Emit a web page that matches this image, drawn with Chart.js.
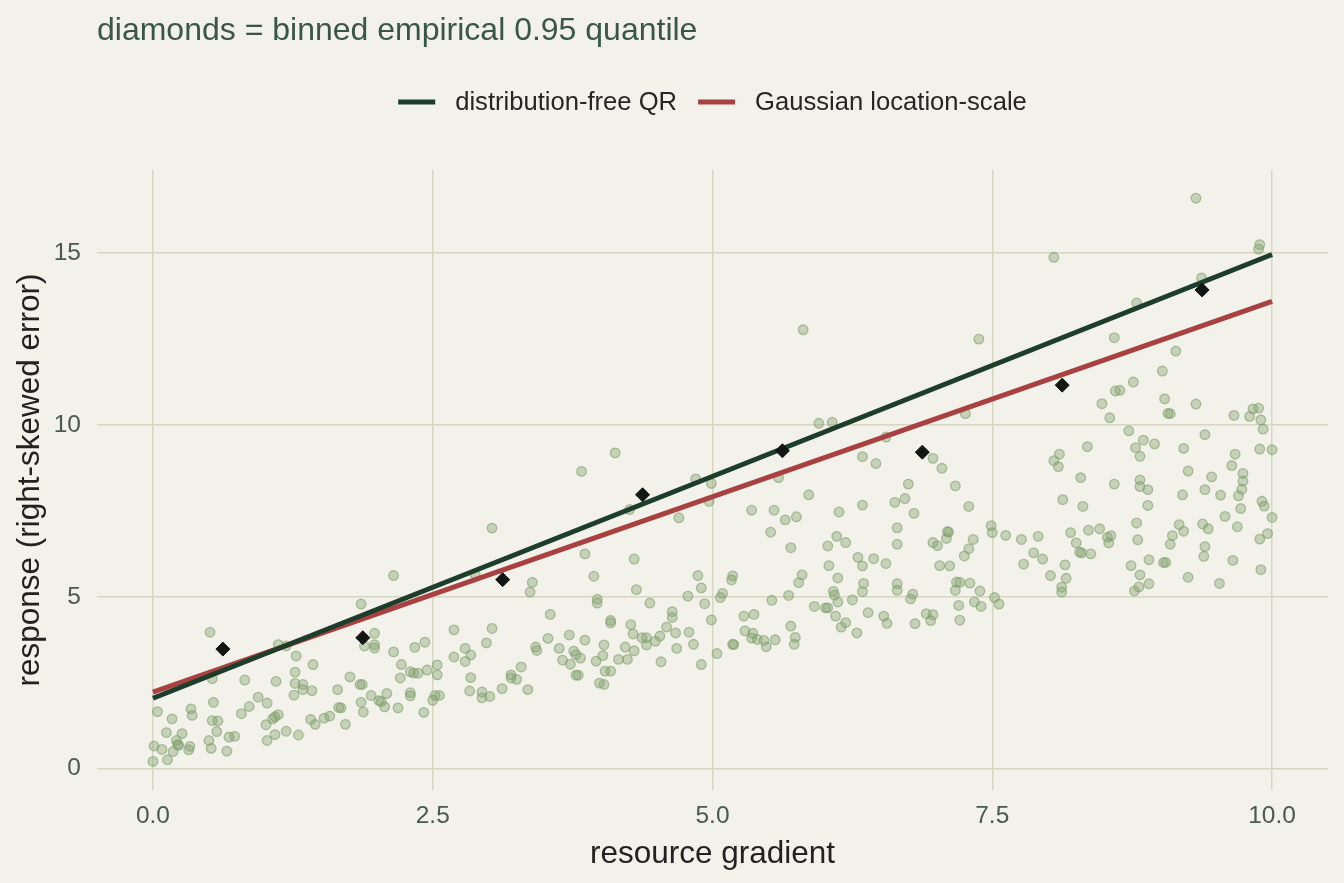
<!DOCTYPE html>
<html>
<head>
<meta charset="utf-8">
<script src="https://cdn.jsdelivr.net/npm/chart.js@4/dist/chart.umd.min.js"></script>
<style>
  html, body { margin: 0; padding: 0; background: #f2f1ea; }
  #wrap { width: 1344px; height: 883px; }
</style>
</head>
<body>
<div id="wrap"><canvas id="c" width="1344" height="883"></canvas></div>
<script>
// ---- data ----
const pointX = [
0.51,1.12,1.19,1.28,1.43,1.27,0.53,0.82,1.10,1.27,1.34,1.34,1.42,1.26,0.94,1.02,0.54,0.86,0.79,0.34,0.35,0.04,0.17,0.53,0.58,1.12,1.09,1.07,1.01,1.41,1.45,1.53,1.58,0.57,0.26,0.12,0.21,0.01,0.08,0.18,0.22,0.23,0.33,0.32,0.50,0.52,0.66,0.68,0.73,1.02,1.09,1.19,1.30,0.00,0.13,
3.03,2.15,2.88,1.86,1.98,1.89,1.98,1.98,2.15,2.34,2.43,2.69,3.03,2.98,2.79,2.84,2.69,2.79,2.22,2.54,2.30,2.33,2.37,2.45,2.54,2.21,2.84,1.76,1.85,1.87,1.65,1.95,2.09,2.02,2.04,2.07,1.86,1.88,2.19,2.30,2.30,2.42,1.66,1.68,1.72,2.50,2.52,2.56,2.83,2.94,2.94,3.01,3.12,3.20,3.20,3.25,3.29,
4.13,3.83,4.85,4.99,4.26,4.97,4.70,3.86,4.30,3.94,3.39,3.37,4.32,4.87,4.90,4.78,4.93,4.99,3.97,3.97,4.44,3.55,4.64,4.64,4.09,4.09,4.27,4.59,3.72,4.29,4.37,4.41,4.49,4.53,4.67,4.79,4.83,3.53,3.86,3.42,3.43,3.63,3.76,3.78,3.82,4.03,4.02,4.22,4.30,4.41,4.68,3.66,3.73,3.96,4.16,4.24,4.54,4.90,3.35,3.78,3.80,4.04,4.09,3.99,4.03,
5.81,5.95,6.07,6.55,6.34,6.46,5.59,5.86,5.35,5.55,5.65,5.75,6.13,6.34,6.63,5.52,5.70,6.11,6.03,6.19,6.65,6.65,6.30,6.44,6.34,6.55,6.04,6.12,6.35,6.34,6.65,6.65,5.80,5.77,5.18,5.17,5.09,5.07,5.68,5.53,6.08,6.09,6.12,6.25,5.91,6.01,6.03,6.39,6.53,6.56,6.10,6.19,6.15,6.29,5.28,5.37,5.29,5.36,5.35,5.40,5.46,5.48,5.56,5.70,5.74,5.73,5.18,5.19,5.04,
7.38,7.26,6.97,7.05,6.75,6.72,7.17,6.80,7.29,7.49,7.50,7.62,7.76,7.91,7.10,7.11,7.09,7.33,7.29,7.25,6.97,7.01,7.03,7.12,7.87,7.95,7.78,7.18,7.21,7.30,7.17,7.39,7.52,7.56,7.34,7.40,7.20,7.21,6.79,6.77,6.91,6.97,6.95,6.81,8.15,8.16,8.12,8.12,8.02,8.20,8.25,8.28,8.30,8.38,8.36,8.13,8.31,8.29,8.10,8.05,8.09,8.35,8.05,
9.32,9.89,9.88,9.37,8.79,8.59,9.14,9.02,8.76,8.60,8.64,8.48,8.55,9.04,9.07,9.09,9.32,9.66,9.80,9.83,9.88,9.90,9.92,8.72,8.85,8.78,8.82,8.95,9.21,9.40,9.67,9.89,10.00,9.64,9.25,9.46,9.74,9.74,9.73,9.70,9.72,8.82,8.82,8.89,8.59,8.89,9.20,9.40,9.54,9.91,9.93,10.00,9.58,9.69,9.89,9.96,8.79,9.17,9.21,9.38,9.43,8.46,8.53,8.56,8.54,8.80,9.11,9.09,9.40,9.39,8.74,8.82,8.90,9.03,9.05,9.25,9.65,9.90,8.77,8.81,8.90,9.53
];
const pointY = [
3.97,3.61,3.57,3.28,3.03,2.81,2.62,2.58,2.54,2.48,2.45,2.30,2.27,2.14,2.08,1.91,1.93,1.81,1.60,1.74,1.55,1.66,1.45,1.40,1.39,1.57,1.51,1.45,1.28,1.43,1.29,1.47,1.53,1.08,1.02,1.05,0.82,0.66,0.56,0.50,0.70,0.68,0.65,0.55,0.82,0.59,0.51,0.92,0.94,0.82,0.99,1.09,0.98,0.21,0.26,
7.00,5.62,5.65,4.79,3.94,3.57,3.61,3.51,3.40,3.53,3.68,4.04,4.08,3.66,3.50,3.31,3.25,3.12,3.03,3.02,2.82,2.78,2.78,2.87,2.73,2.64,2.65,2.67,2.45,2.45,2.30,2.13,2.19,1.98,1.95,1.80,1.93,1.65,1.77,2.21,2.12,1.64,1.78,1.77,1.29,1.99,2.13,2.13,2.26,2.23,2.06,2.10,2.33,2.73,2.64,2.60,2.96,
9.19,8.65,8.43,8.30,7.54,7.78,7.30,6.25,6.10,5.60,5.42,5.14,5.21,5.62,5.26,5.02,4.80,4.33,4.93,4.82,4.82,4.49,4.57,4.40,4.31,4.24,4.19,4.12,3.89,3.92,3.81,3.81,3.71,3.86,3.95,3.97,3.62,3.79,3.74,3.54,3.44,3.50,3.42,3.32,3.22,3.60,3.29,3.54,3.43,3.60,3.50,3.16,3.04,3.13,3.18,3.18,3.11,3.03,2.30,2.72,2.72,2.84,2.84,2.49,2.45,
12.77,10.05,10.08,9.65,9.08,8.88,8.47,7.97,7.52,7.52,7.24,7.33,7.47,7.67,7.75,6.88,6.43,6.76,6.48,6.58,7.01,6.53,6.15,6.11,5.90,5.97,5.91,5.55,5.39,5.15,5.38,5.19,5.64,5.41,5.61,5.49,5.10,4.98,5.04,4.90,5.16,5.05,4.85,4.91,4.72,4.68,4.68,4.54,4.44,4.23,4.44,4.25,4.12,3.95,4.44,4.49,4.01,3.94,3.80,3.76,3.73,3.55,3.75,4.15,3.82,3.62,3.62,3.61,3.35,
12.50,10.33,9.03,8.74,8.28,7.86,8.23,7.43,7.63,7.07,6.87,6.79,6.67,6.76,6.90,6.88,6.70,6.67,6.40,6.19,6.58,6.49,5.91,5.90,6.28,6.10,5.95,5.43,5.42,5.40,5.19,5.17,4.98,4.79,4.85,4.72,4.75,4.32,5.08,4.94,4.51,4.48,4.31,4.22,5.93,5.54,5.28,5.14,5.62,6.87,6.57,6.30,6.28,6.25,6.94,7.83,7.63,8.47,9.15,8.96,8.79,9.37,14.88,
16.60,15.25,15.12,14.28,13.55,12.54,12.15,11.57,11.25,10.99,11.01,10.62,10.21,10.76,10.34,10.33,10.61,10.28,10.25,10.47,10.49,10.15,9.88,9.83,9.56,9.34,9.09,9.45,9.32,9.72,9.15,9.30,9.28,8.82,8.66,8.49,8.59,8.37,8.13,7.94,7.57,8.40,8.21,8.12,8.28,7.66,7.97,8.12,7.96,7.78,7.64,7.31,7.34,7.04,6.68,6.84,7.15,7.10,6.91,7.12,6.98,6.98,6.73,6.78,6.57,6.66,6.78,6.53,6.46,6.18,5.91,5.64,6.08,6.00,6.00,5.57,6.06,5.79,5.17,5.29,5.38,5.39
];
const diamondX = [0.625, 1.875, 3.125, 4.375, 5.625, 6.875, 8.125, 9.375];
const diamondY = [3.48, 3.81, 5.50, 7.97, 9.25, 9.21, 11.16, 13.93];
const lineX = [0, 10];
const qrY = [2.05, 14.96];
const gaussY = [2.23, 13.60];
const xTicks = [0, 2.5, 5, 7.5, 10];
const yTicks = [0, 5, 10, 15];

// ---- styling ----
const BG = '#f2f1ea';
const GRID = '#d6d6c3';
const GREEN = '#1e3d2b';
const RED = '#a84242';
const FONT = '"Liberation Sans", Arial, Helvetica, sans-serif';
const seriesNames = ['distribution-free QR', 'Gaussian location-scale'];
const titleText = 'diamonds = binned empirical 0.95 quantile';

const pts = pointX.map((x, i) => ({x: x, y: pointY[i]}));
const dia = diamondX.map((x, i) => ({x: x, y: diamondY[i]}));
const qr = lineX.map((x, i) => ({x: x, y: qrY[i]}));
const ga = lineX.map((x, i) => ({x: x, y: gaussY[i]}));

const deco = {
  id: 'deco',
  beforeDraw(chart) {
    const ctx = chart.ctx;
    ctx.save();
    ctx.fillStyle = BG;
    ctx.fillRect(0, 0, chart.width, chart.height);
    ctx.restore();
  },
  afterDraw(chart) {
    const ctx = chart.ctx;
    const area = chart.chartArea;
    ctx.save();
    // title
    ctx.fillStyle = '#3b5646';
    ctx.font = '32px ' + FONT;
    ctx.textAlign = 'left';
    ctx.textBaseline = 'middle';
    ctx.fillText(titleText, area.left, 31);
    // legend
    const cols = [GREEN, RED];
    ctx.font = '25.6px ' + FONT;
    const swatch = 37, gapTxt = 20, gapItem = 21;
    const widths = seriesNames.map(s => ctx.measureText(s).width);
    let total = 0;
    widths.forEach((w, i) => { total += swatch + gapTxt + w + (i < widths.length - 1 ? gapItem : 0); });
    let x = (area.left + area.right) / 2 - total / 2;
    const y = 102;
    seriesNames.forEach((s, i) => {
      ctx.strokeStyle = cols[i];
      ctx.lineWidth = 5;
      ctx.beginPath();
      ctx.moveTo(x, y);
      ctx.lineTo(x + swatch, y);
      ctx.stroke();
      ctx.fillStyle = '#262626';
      ctx.fillText(s, x + swatch + gapTxt, y + 1);
      x += swatch + gapTxt + widths[i] + gapItem;
    });
    ctx.restore();
  }
};

new Chart(document.getElementById('c'), {
  type: 'scatter',
  data: {
    datasets: [
      {
        label: 'points', data: pts, order: 3,
        pointRadius: 4.8, pointHoverRadius: 4.8,
        backgroundColor: 'rgba(128,158,108,0.38)',
        borderColor: 'rgba(128,158,108,0.6)',
        borderWidth: 1.3
      },
      {
        label: seriesNames[1], data: ga, type: 'line', showLine: true, order: 2,
        borderColor: RED, borderWidth: 5, pointRadius: 0, fill: false
      },
      {
        label: seriesNames[0], data: qr, type: 'line', showLine: true, order: 1,
        borderColor: GREEN, borderWidth: 5, pointRadius: 0, fill: false
      },
      {
        label: 'diamonds', data: dia, order: 0,
        pointStyle: 'rectRot', pointRadius: 7, pointHoverRadius: 7,
        backgroundColor: '#121714', borderColor: '#121714', borderWidth: 1
      }
    ]
  },
  options: {
    responsive: false,
    animation: false,
    devicePixelRatio: 1,
    layout: { padding: { top: 170, right: 16, bottom: 3, left: 5 } },
    plugins: {
      legend: { display: false },
      title: { display: false },
      tooltip: { enabled: false }
    },
    scales: {
      x: {
        type: 'linear', min: -0.5, max: 10.5,
        afterBuildTicks: s => { s.ticks = xTicks.map(v => ({value: v})); },
        afterFit: s => { s.height = 90; },
        grid: { color: GRID, lineWidth: 1.5, drawTicks: false },
        border: { display: false },
        ticks: {
          padding: 12, color: '#4a5a4f', font: { family: FONT, size: 24.5 },
          maxRotation: 0, autoSkip: false,
          callback: v => Number(v).toFixed(1)
        },
        title: {
          display: true, text: 'resource gradient', color: '#222222',
          font: { family: FONT, size: 31.5 }, padding: { top: 2, bottom: 7 }
        }
      },
      y: {
        type: 'linear', min: -0.62, max: 17.42,
        afterBuildTicks: s => { s.ticks = yTicks.map(v => ({value: v})); },
        afterFit: s => { s.width = 92; },
        grid: { color: GRID, lineWidth: 1.5, drawTicks: false },
        border: { display: false },
        ticks: {
          padding: 16, color: '#4a5a4f', font: { family: FONT, size: 24.5 },
          autoSkip: false, callback: v => String(v)
        },
        title: {
          display: true, text: 'response (right-skewed error)', color: '#222222',
          font: { family: FONT, size: 31.5 }, padding: { top: 6, bottom: 0 }
        }
      }
    }
  },
  plugins: [deco]
});
</script>
</body>
</html>
